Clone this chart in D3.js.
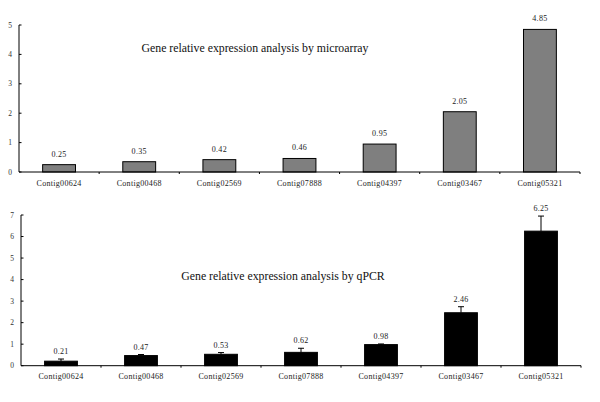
<!DOCTYPE html>
<html><head><meta charset="utf-8">
<script src="https://cdn.jsdelivr.net/npm/d3@7"></script>
<style>body{margin:0;background:#fff}svg{display:block}</style>
</head><body>
<script>
const categories = ["Contig00624","Contig00468","Contig02569","Contig07888","Contig04397","Contig03467","Contig05321"];
const microarray = [0.25,0.35,0.42,0.46,0.95,2.05,4.85];
const qpcr = [0.21,0.47,0.53,0.62,0.98,2.46,6.25];
const qpcrErr = [0.10,0.05,0.08,0.19,0.03,0.28,0.70];
const topTicks = [0,1,2,3,4,5];
const bottomTicks = [0,1,2,3,4,5,6,7];

const svg = d3.select("body").append("svg").attr("width",600).attr("height",402);
const font = "'Liberation Serif','Times New Roman',serif";

function panel(cfg){
  const g = svg.append("g");
  const x = d3.scaleBand().domain(categories).range([cfg.x0,cfg.x1]).paddingInner(0.59).paddingOuter(0.295);
  const y = d3.scaleLinear().domain([0,cfg.max]).range([cfg.y0,cfg.yTop]);
  g.selectAll("rect.bar").data(cfg.values).join("rect")
    .attr("x",(d,i)=>x(categories[i])).attr("width",x.bandwidth())
    .attr("y",d=>y(d)).attr("height",d=>y(0)-y(d))
    .attr("fill",cfg.fill).attr("stroke","#000").attr("stroke-width",1);
  if(cfg.err){
    cfg.values.forEach((v,i)=>{
      const cx = x(categories[i])+x.bandwidth()/2;
      g.append("line").attr("x1",cx).attr("x2",cx).attr("y1",y(v)).attr("y2",y(v+cfg.err[i])).attr("stroke","#000");
      g.append("line").attr("x1",cx-3).attr("x2",cx+3).attr("y1",y(v+cfg.err[i])).attr("y2",y(v+cfg.err[i])).attr("stroke","#000");
    });
  }
  g.selectAll("text.val").data(cfg.values).join("text")
    .attr("x",(d,i)=>x(categories[i])+x.bandwidth()/2)
    .attr("y",(d,i)=> cfg.err ? y(d+cfg.err[i])-5 : y(d)-8)
    .attr("text-anchor","middle").attr("font-family",font).attr("font-size",8)
    .attr("letter-spacing",0.3).attr("fill","#222").text(d=>d.toFixed(2));
  g.append("line").attr("x1",cfg.x0).attr("x2",cfg.x0).attr("y1",y(0)).attr("y2",y(cfg.max)).attr("stroke","#000");
  cfg.ticks.forEach(t=>{
    g.append("line").attr("x1",cfg.x0).attr("x2",cfg.x0+2.5).attr("y1",y(t)).attr("y2",y(t)).attr("stroke","#000");
    g.append("text").attr("x",cfg.x0-9).attr("y",y(t)+2.5).attr("text-anchor","middle")
      .attr("font-family",font).attr("font-size",7.5).attr("fill","#333").text(t);
  });
  g.append("line").attr("x1",cfg.x0).attr("x2",cfg.x1).attr("y1",y(0)).attr("y2",y(0)).attr("stroke","#000");
  for(let i=1;i<=categories.length;i++){
    const bx = cfg.x0 + i*x.step();
    g.append("line").attr("x1",bx).attr("x2",bx).attr("y1",y(0)).attr("y2",y(0)+2).attr("stroke","#000");
  }
  g.selectAll("text.cat").data(categories).join("text")
    .attr("x",d=>x(d)+x.bandwidth()/2).attr("y",y(0)+13.5)
    .attr("text-anchor","middle").attr("font-family",font).attr("font-size",8)
    .attr("letter-spacing",0.3).attr("fill","#222").text(d=>d);
  g.append("text").attr("x",cfg.tx).attr("y",cfg.ty).attr("text-anchor","middle")
    .attr("font-family",font).attr("font-size",11.8).attr("fill","#111").text(cfg.title);
}

panel({x0:19,x1:580,y0:172,yTop:25,max:5,ticks:topTicks,values:microarray,fill:"#7f7f7f",
  title:"Gene relative expression analysis by microarray",tx:255,ty:52});
panel({x0:21,x1:581,y0:365.7,yTop:215,max:7,ticks:bottomTicks,values:qpcr,err:qpcrErr,fill:"#000",
  title:"Gene relative expression analysis by qPCR",tx:283,ty:280});
</script>
</body></html>
